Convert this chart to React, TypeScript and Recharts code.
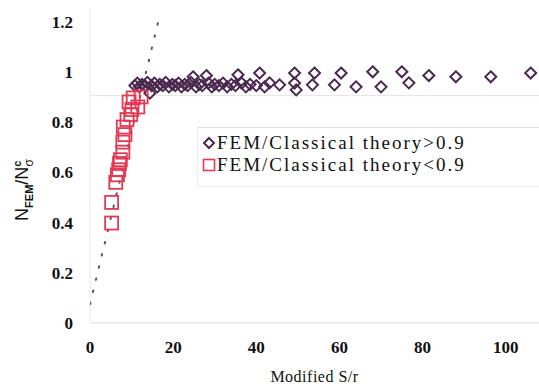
import React from "react";
import {
	Legend,
	ReferenceLine,
	Scatter,
	ScatterChart,
	XAxis,
	YAxis,
} from "recharts";

// FEM / classical theory > 0.9 : [modified S/r, N_FEM / N^c_sigma]
const aboveRatio: Array<[number, number]> = [
	[10.8, 0.945], [11.4, 0.955], [11.9, 0.94], [12.5, 0.95], [13.2, 0.945],
	[13.8, 0.958], [14.4, 0.915], [14.8, 0.945], [15.5, 0.955], [16.2, 0.94],
	[16.8, 0.95], [17.5, 0.945], [18.2, 0.958], [19, 0.94], [19.8, 0.95],
	[20.5, 0.945], [21.3, 0.955], [22, 0.94], [22.8, 0.95], [23.5, 0.945],
	[24.3, 0.958], [24.8, 0.98], [25.5, 0.94], [26.3, 0.95], [27, 0.945],
	[28, 0.985], [28.5, 0.955], [29.3, 0.94], [30, 0.95], [31, 0.945],
	[32, 0.955], [33, 0.94], [34, 0.95], [35, 0.945], [35.6, 0.988],
	[36.5, 0.955], [37.5, 0.94], [38.5, 0.95], [40, 0.945], [40.8, 0.995],
	[42, 0.94], [43.2, 0.956], [45.6, 0.948], [49.2, 0.995], [49.2, 0.955],
	[49.6, 0.928], [53.5, 0.948], [54, 0.995], [58.8, 0.948], [60.4, 0.995],
	[64, 0.94], [68, 1.0], [70, 0.94], [75, 1.0], [76.7, 0.956],
	[81.5, 0.985], [88, 0.98], [96.4, 0.98], [106, 0.995],
];

// FEM / classical theory < 0.9
const belowRatio: Array<[number, number]> = [
	[5.2, 0.398], [5.2, 0.48], [6.2, 0.56], [6.6, 0.59], [6.9, 0.61],
	[7.1, 0.635], [7.3, 0.65], [7.9, 0.68], [7.9, 0.72], [8.4, 0.75],
	[8, 0.78], [8.9, 0.81], [9.8, 0.83], [10.1, 0.85], [11.5, 0.86],
	[9.4, 0.88], [10.4, 0.896], [12.3, 0.9],
];

// classical theory (dotted line)
const classicalLine: Array<[number, number]> = [
	[0, 0.075],
	[16.8, 1.226],
];

const xTicks = [0, 20, 40, 60, 80, 100];
const yTicks = [0, 0.2, 0.4, 0.6, 0.8, 1, 1.2];

const legendLabels = [
	"FEM/Classical theory>0.9",
	"FEM/Classical theory<0.9",
];

const toPoints = (rows: Array<[number, number]>) =>
	rows.map(([x, y]) => ({ x, y }));

const PURPLE = "#4a2850";
const RED = "#e23a55";
const SERIF = "Liberation Serif";

const Diamond = (props: any) => {
	const { cx, cy } = props;
	const r = 5.5;
	return (
		<path
			d={`M${cx},${cy - r}L${cx + r},${cy}L${cx},${cy + r}L${cx - r},${cy}Z`}
			fill="none"
			stroke={PURPLE}
			strokeWidth={2}
		/>
	);
};

const Square = (props: any) => {
	const { cx, cy } = props;
	const h = 6.5;
	return (
		<rect
			x={cx - h}
			y={cy - h}
			width={h * 2}
			height={h * 2}
			fill="none"
			stroke={RED}
			strokeWidth={1.8}
		/>
	);
};

const tickStyle = {
	fontFamily: SERIF,
	fontWeight: 700,
	fontSize: 17,
	fill: "#111",
};

function LegendBox() {
	return (
		<div
			style={{
				borderTop: "1px solid #ddd",
				borderLeft: "1px solid #eee",
				borderBottom: "1px solid #eee",
				padding: "4px 0 10px 4px",
				fontFamily: SERIF,
				fontSize: 19,
				letterSpacing: 2,
				color: "#111",
				lineHeight: "22px",
			}}
		>
			<div style={{ display: "flex", alignItems: "center" }}>
				<svg width={14} height={14} style={{ marginRight: 1 }}>
					<path d="M7,2L12,7L7,12L2,7Z" fill="none" stroke={PURPLE} strokeWidth={2} />
				</svg>
				{legendLabels[0]}
			</div>
			<div style={{ display: "flex", alignItems: "center" }}>
				<svg width={14} height={14} style={{ marginRight: 1 }}>
					<rect x={1.5} y={1.5} width={11} height={11} fill="none" stroke={RED} strokeWidth={1.6} />
				</svg>
				{legendLabels[1]}
			</div>
		</div>
	);
}

export default function App() {
	return (
		<div style={{ position: "absolute", left: 0, top: 0, background: "#fff" }}>
			<ScatterChart
				width={539}
				height={390}
				margin={{ top: 9, right: 0, bottom: 0, left: 0 }}
			>
				<XAxis
					type="number"
					dataKey="x"
					domain={[0, 108]}
					ticks={xTicks}
					allowDataOverflow
					stroke="#dcdcdc"
					tickLine={false}
					tickSize={0}
					tickMargin={18}
					height={67}
					tick={tickStyle}
					label={{
						value: "Modified S/r",
						position: "insideBottom",
						offset: 8,
						style: {
							fontFamily: SERIF,
							fontSize: 16,
							fill: "#111",
							letterSpacing: 0.5,
						},
					}}
				/>
				<YAxis
					type="number"
					dataKey="y"
					domain={[0, 1.25]}
					ticks={yTicks}
					allowDataOverflow
					stroke="#e8e8e8"
					tickLine={false}
					tickSize={0}
					tickMargin={17}
					width={90}
					tick={tickStyle}
					tickFormatter={(v) => String(v)}
					label={{
						content: () => (
							<text
								transform="translate(28,190) rotate(-90)"
								textAnchor="middle"
								fontFamily="Liberation Sans"
								fontSize={18}
								fill="#111"
							>
								N
								<tspan fontSize={11} fontWeight={700} dy={5}>FEM</tspan>
								<tspan dy={-5}>/N</tspan>
								<tspan fontSize={11} fontWeight={700} dy={-7}>c</tspan>
								<tspan fontSize={12} dx={-6} dy={12}>σ</tspan>
							</text>
						),
					}}
				/>
				<ReferenceLine y={0.905} stroke="#e2e2e2" strokeWidth={1} />
				<Scatter
					data={toPoints(classicalLine)}
					line={{ stroke: "#555", strokeWidth: 2, strokeDasharray: "1.5 11", strokeLinecap: "round" }}
					shape={() => null}
					isAnimationActive={false}
					legendType="none"
				/>
				<Scatter
					name={legendLabels[0]}
					data={toPoints(aboveRatio)}
					shape={Diamond}
					isAnimationActive={false}
				/>
				<Scatter
					name={legendLabels[1]}
					data={toPoints(belowRatio)}
					shape={Square}
					isAnimationActive={false}
				/>
				<Legend
					layout="horizontal"
					verticalAlign="middle"
					content={() => <LegendBox />}
					wrapperStyle={{ left: 197, top: 127, width: 342, height: 62 }}
				/>
			</ScatterChart>
		</div>
	);
}
